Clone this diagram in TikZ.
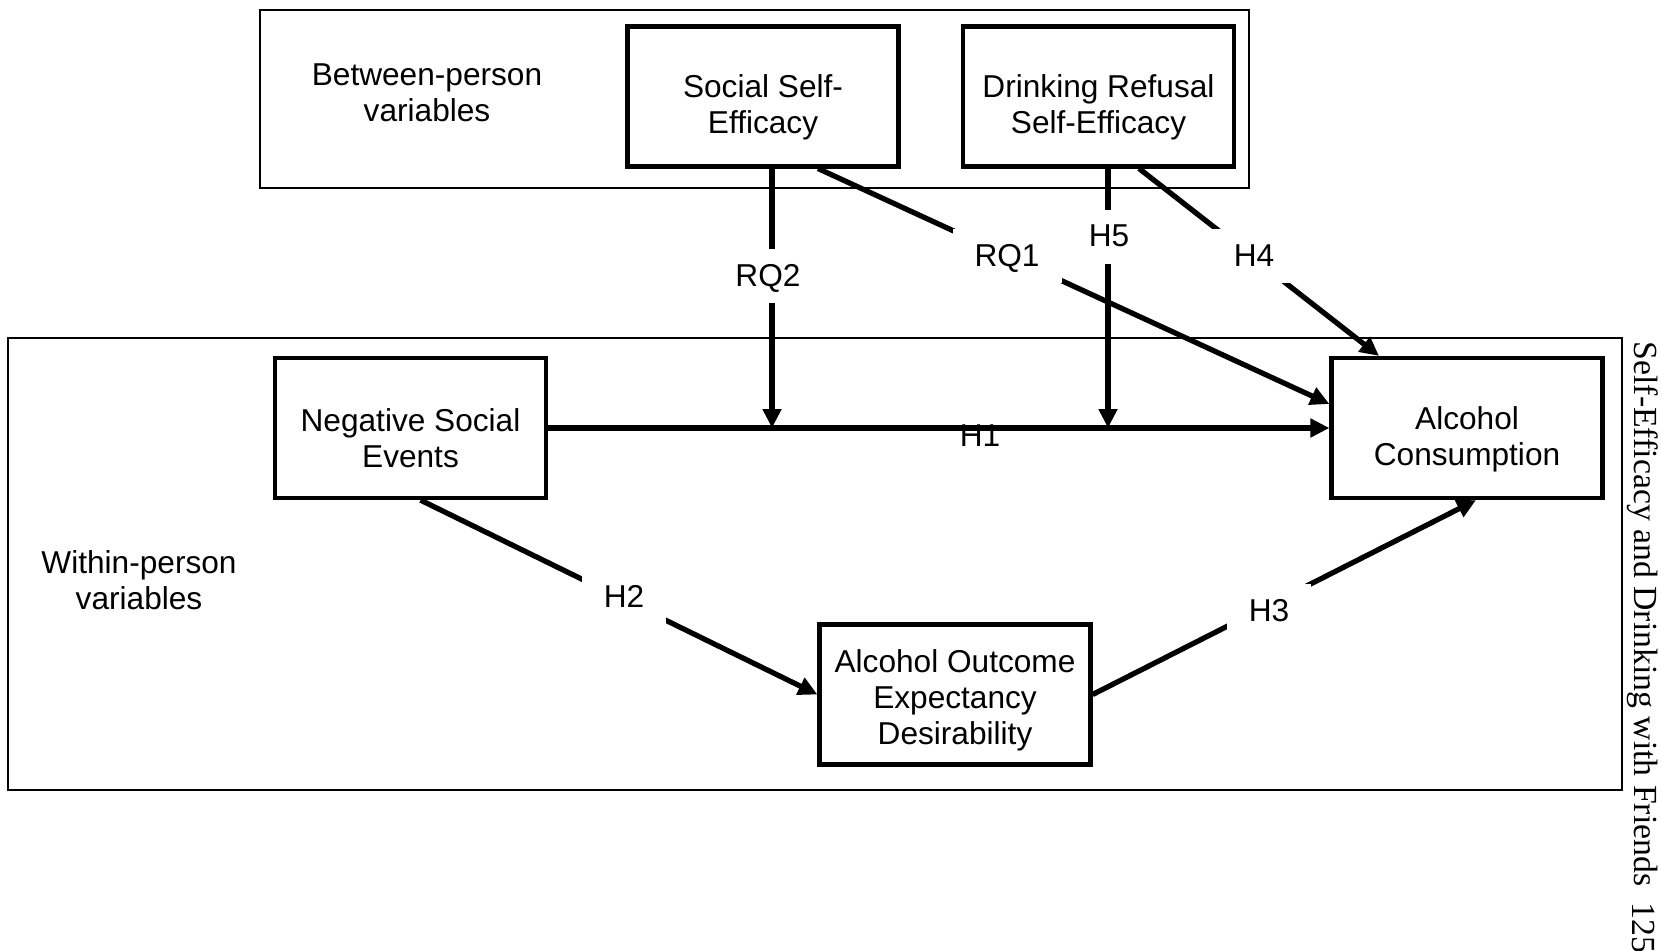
\documentclass[tikz,border=0pt]{standalone}
\usepackage{fontspec}
\setmainfont{Liberation Sans}
\newfontfamily\headfont{Liberation Serif}
\usetikzlibrary{arrows.meta}
\begin{document}
\begin{tikzpicture}[
    font=\fontsize{9}{10.2}\selectfont,
    var/.style={draw, line width=1.2pt, minimum width=2.71cm, minimum height=1.40cm, align=center, inner sep=0pt},
    group/.style={draw, line width=0.6pt},
    effect/.style={line width=1.5pt, -{Triangle[length=0.19cm,width=0.18cm]}},
    hyp/.style={fill=white, inner xsep=0.22cm, inner ysep=0.14cm, text height=0.23cm, text depth=0.03cm},
    head/.style={rotate=-90, anchor=west, inner sep=0pt, font=\headfont\fontsize{9.6}{11}\selectfont}
  ]
  \useasboundingbox (0,0) rectangle (16.61,-9.50);

  \draw[group] (2.60,-0.10) rectangle (12.49,-1.88);
  \draw[group] (0.08,-3.38) rectangle (16.22,-7.90);

  \node[align=center] (betweentxt) at (4.27,-0.93) {Between-person\\variables};
  \node[align=center] (withintxt)  at (1.39,-5.80) {Within-person\\variables};

  \node[var] (sse)  at (7.63,-0.964)  {\rule{0pt}{0.44cm}Social Self-\\Efficacy};
  \node[var] (drse) at (10.985,-0.964) {\rule{0pt}{0.44cm}Drinking Refusal\\Self-Efficacy};
  \node[var] (nse)  at (4.105,-4.28)  {\rule{0pt}{0.44cm}Negative Social\\Events};
  \node[var] (ac)   at (14.67,-4.28)  {\rule{0pt}{0.46cm}Alcohol\\Consumption};
  \node[var] (aoed) at (9.55,-6.945)  {\rule{0pt}{0.34cm}Alcohol Outcome\\Expectancy\\Desirability};

  \coordinate (rq2end) at (7.72,-4.28);
  \coordinate (h5end)  at (11.08,-4.28);

  \node (h1lbl) at (9.80,-4.36) {H1};
  \draw[effect] (nse.east) -- (ac.west);
  \draw[effect] (sse.south -| rq2end) -- (rq2end);
  \draw[effect] (drse.south -| h5end) -- (h5end);
  \draw[effect] ([xshift=0.55cm]sse.south) -- ([yshift=0.24cm]ac.west);
  \draw[effect] ([xshift=0.405cm]drse.south) -- ([xshift=-0.88cm]ac.north);
  \draw[effect] ([xshift=0.10cm]nse.south) -- (aoed.west);
  \draw[effect] (aoed.east) -- ([xshift=0.09cm]ac.south);

  \node[hyp] (rq2lbl) at (7.68,-2.76)  {RQ2};
  \node[hyp] (rq1lbl) at (10.07,-2.56) {RQ1};
  \node[hyp] (h5lbl)  at (11.09,-2.37) {H5};
  \node[hyp] (h4lbl)  at (12.54,-2.56) {H4};
  \node[hyp] (h2lbl)  at (6.24,-5.97)  {H2};
  \node[hyp] (h3lbl)  at (12.69,-6.11) {H3};

  \node[head] (runhead) at (16.43,-3.41) {Self-Efficacy and Drinking with Friends};
  \node[head] (pageno)  at (16.43,-9.02) {125};
\end{tikzpicture}
\end{document}
